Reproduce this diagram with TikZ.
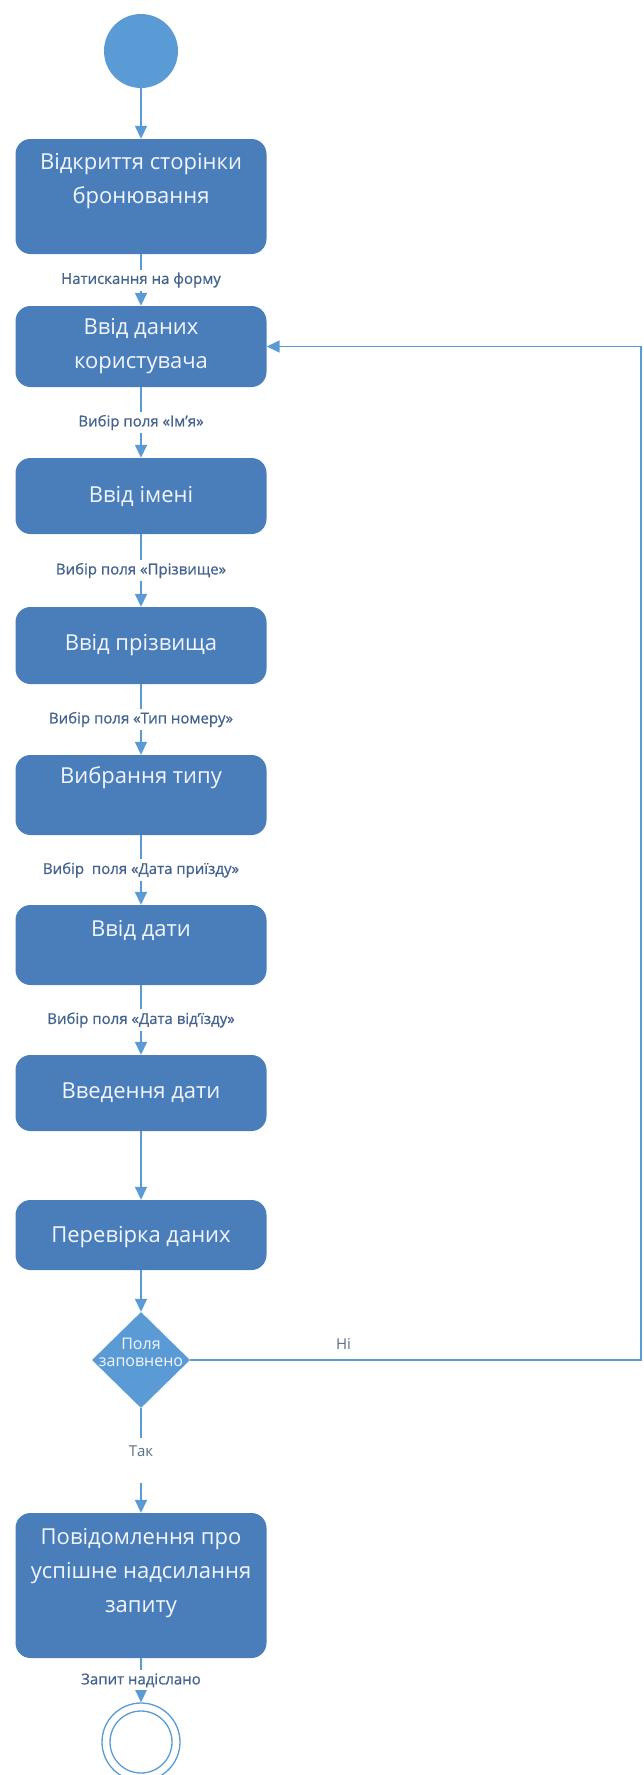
\documentclass[tikz,border=0pt]{standalone}
\usepackage{fontspec}
\setmainfont{Open Sans}
\newfontfamily\semib[FakeBold=0.8]{Open Sans}
\usetikzlibrary{arrows.meta,shapes.geometric}
\definecolor{boxblue}{HTML}{4A7EBB}
\definecolor{lightblue}{HTML}{5B9BD5}
\definecolor{conncol}{HTML}{5B9BD5}
\definecolor{lblcol}{HTML}{44648F}
\definecolor{grylbl}{HTML}{5A6E87}
\definecolor{boxtxt}{HTML}{F2F6FB}
\tikzset{
  actbox/.style={rectangle, rounded corners=15pt, fill=boxblue, minimum width=251pt, inner sep=0pt},
  boxtext/.style={text=boxtxt, font=\fontsize{22}{34}\selectfont, align=center, inner sep=0pt},
  conn/.style={draw=conncol, line width=1.5pt, -{Triangle[length=13pt,width=12pt]}},
  lbl/.style={fill=white, text=lblcol, font=\semib\fontsize{15}{17}\selectfont, inner sep=3pt},
  smalllbl/.style={text=grylbl, font=\fontsize{15}{17}\selectfont, inner sep=0pt},
}
\begin{document}
\begin{tikzpicture}[x=1pt,y=-1pt]
\useasboundingbox (0,0) rectangle (643,1775);

% start
\node[circle, fill=lightblue, minimum size=74pt, inner sep=0pt] (start) at (141,51) {};

% boxes
\node[actbox, minimum height=115pt] (b1) at (141,196.5) {};
\node[boxtext] (t1) at ([yshift=15pt]b1.center) {Відкриття сторінки\\бронювання};
\node[actbox, minimum height=81pt] (b2) at (141,346.5) {};
\node[boxtext] (t2) at (b2.center) {Ввід даних\\користувача};
\node[actbox, minimum height=76pt] (b3) at (141,496) {};
\node[boxtext] (t3) at (b3.center) {Ввід імені};
\node[actbox, minimum height=77pt] (b4) at (141,645.5) {};
\node[boxtext] (t4) at (b4.center) {Ввід прізвища};
\node[actbox, minimum height=80pt] (b5) at (141,795) {};
\node[boxtext] (t5) at ([yshift=17pt]b5.center) {Вибрання типу};
\node[actbox, minimum height=80pt] (b6) at (141,945) {};
\node[boxtext] (t6) at ([yshift=15pt]b6.center) {Ввід дати};
\node[actbox, minimum height=76pt] (b7) at (141,1093) {};
\node[boxtext] (t7) at (b7.center) {Введення дати};
\node[actbox, minimum height=70pt] (b8) at (141,1235) {};
\node[boxtext] (t8) at ([yshift=-2pt]b8.center) {Перевірка даних};

% decision
\node[diamond, fill=lightblue, minimum width=98pt, minimum height=96pt, inner sep=0pt] (dec) at (141,1360) {};
\node[text=boxtxt, font=\fontsize{16}{17}\selectfont, align=center, inner sep=0pt] (tdec) at ([yshift=8pt]dec.center) {Поля\\заповнено};

\node[actbox, minimum height=145pt] (b9) at (141,1585.5) {};
\node[boxtext] (t9) at ([yshift=12pt]b9.center) {Повідомлення про\\успішне надсилання\\запиту};

% end
\node[circle, draw=lightblue, line width=1.3pt, fill=white, minimum size=78pt, inner sep=0pt] (endo) at (141,1742) {};
\node[circle, draw=lightblue, line width=1.3pt, minimum size=62pt, inner sep=0pt] (endi) at (endo.center) {};

% connectors
\draw[conn] (start.south) -- (b1.north);
\draw[conn] (b1.south) -- node[lbl] {Натискання на форму} (b2.north);
\draw[conn] (b2.south) -- node[lbl] {Вибір поля «Ім’я»} (b3.north);
\draw[conn] (b3.south) -- node[lbl] {Вибір поля «Прізвище»} (b4.north);
\draw[conn] (b4.south) -- node[lbl] {Вибір поля «Тип номеру»} (b5.north);
\draw[conn] (b5.south) -- node[lbl] {Вибір\ \ поля «Дата приїзду»} (b6.north);
\draw[conn] (b6.south) -- node[lbl] {Вибір поля «Дата від’їзду»} (b7.north);
\draw[conn] (b7.south) -- (b8.north);
\draw[conn] (b8.south) -- (dec.north);
\draw[conn] (dec.south) -- node[fill=white, text=grylbl, font=\fontsize{15}{17}\selectfont, inner sep=0pt, text height=18pt, text depth=27pt] {Так} (b9.north);
\draw[conn] (b9.south) -- node[lbl] {Запит надіслано} (endo.north);

\coordinate (r1) at (641,1360);
\coordinate (r2) at (641,346.5);
\draw[conn] (dec.east) -- node[smalllbl, pos=0.34, above=10pt] {Ні} (r1) -- (r2) -- (b2.east);
\end{tikzpicture}
\end{document}
